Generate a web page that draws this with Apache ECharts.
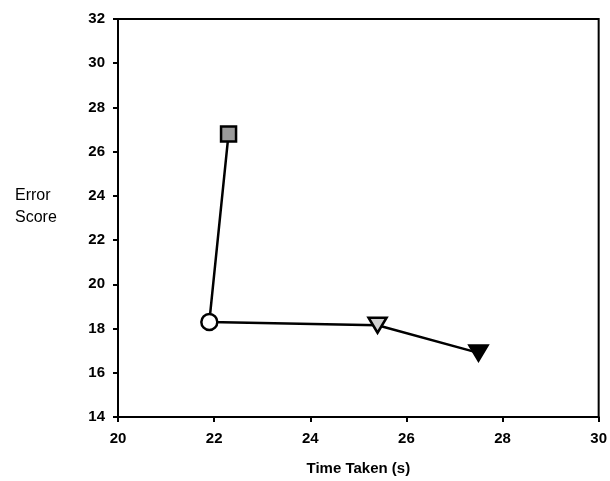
<!DOCTYPE html>
<html><head><meta charset="utf-8">
<script src="https://cdn.jsdelivr.net/npm/echarts@6/dist/echarts.min.js"></script>
<style>html,body{margin:0;padding:0;background:#fff;overflow:hidden}#c{width:610px;height:481px}</style>
</head><body><div id="c"></div>
<script>
const timeTaken = [22.3, 21.9, 25.4, 27.5];
const errorScore = [26.8, 18.3, 18.15, 16.9];
const symbols = ['rect', 'circle', 'triangle', 'triangle'];
const fills = ['#9a9a9a', '#ffffff', '#d0d0d0', '#000000'];
const rotations = [0, 0, 180, 180];
const sizes = [[15, 15], [16, 16], [18, 15], [18, 15]];
const xTicks = [20, 22, 24, 26, 28, 30];
const yTicks = [14, 16, 18, 20, 22, 24, 26, 28, 30, 32];

const data = timeTaken.map((x, i) => ({
  value: [x, errorScore[i]],
  symbol: symbols[i],
  symbolRotate: rotations[i],
  symbolSize: sizes[i],
  itemStyle: { color: fills[i], borderColor: '#000', borderWidth: 2.5 }
}));

const font = 'Liberation Sans, Arial, sans-serif';
const chart = echarts.init(document.getElementById('c'), null, { renderer: 'canvas' });
chart.setOption({
  animation: false,
  backgroundColor: '#fff',
  grid: { left: 118, right: 8, top: 19, bottom: 62, show: true, borderColor: '#000', borderWidth: 2, backgroundColor: 'transparent' },
  xAxis: {
    type: 'value', min: xTicks[0], max: xTicks[xTicks.length - 1], interval: 2,
    name: 'Time Taken (s)', nameLocation: 'middle', nameGap: 44,
    nameTextStyle: { fontFamily: font, fontSize: 15, fontWeight: 'bold', color: '#000' },
    axisLine: { lineStyle: { color: '#000', width: 2 } },
    axisTick: { show: true, length: 5, lineStyle: { color: '#000', width: 2 } },
    axisLabel: { fontFamily: font, fontSize: 15, fontWeight: 'bold', color: '#000', margin: 14 },
    splitLine: { show: false }
  },
  yAxis: {
    type: 'value', min: yTicks[0], max: yTicks[yTicks.length - 1], interval: 2,
    name: 'Error\nScore\n\u00a0', nameLocation: 'middle', nameGap: 103, nameRotate: 0,
    nameTextStyle: { fontFamily: font, fontSize: 16, color: '#000', align: 'left', lineHeight: 22 },
    axisLine: { lineStyle: { color: '#000', width: 2 } },
    axisTick: { show: true, length: 5, lineStyle: { color: '#000', width: 2 } },
    axisLabel: { fontFamily: font, fontSize: 15, fontWeight: 'bold', color: '#000', margin: 13 },
    splitLine: { show: false }
  },
  series: [{
    type: 'line', data: data,
    lineStyle: { color: '#000', width: 2.5 },
    itemStyle: { color: '#fff', borderColor: '#000' },
    z: 3
  }]
});
</script></body></html>
